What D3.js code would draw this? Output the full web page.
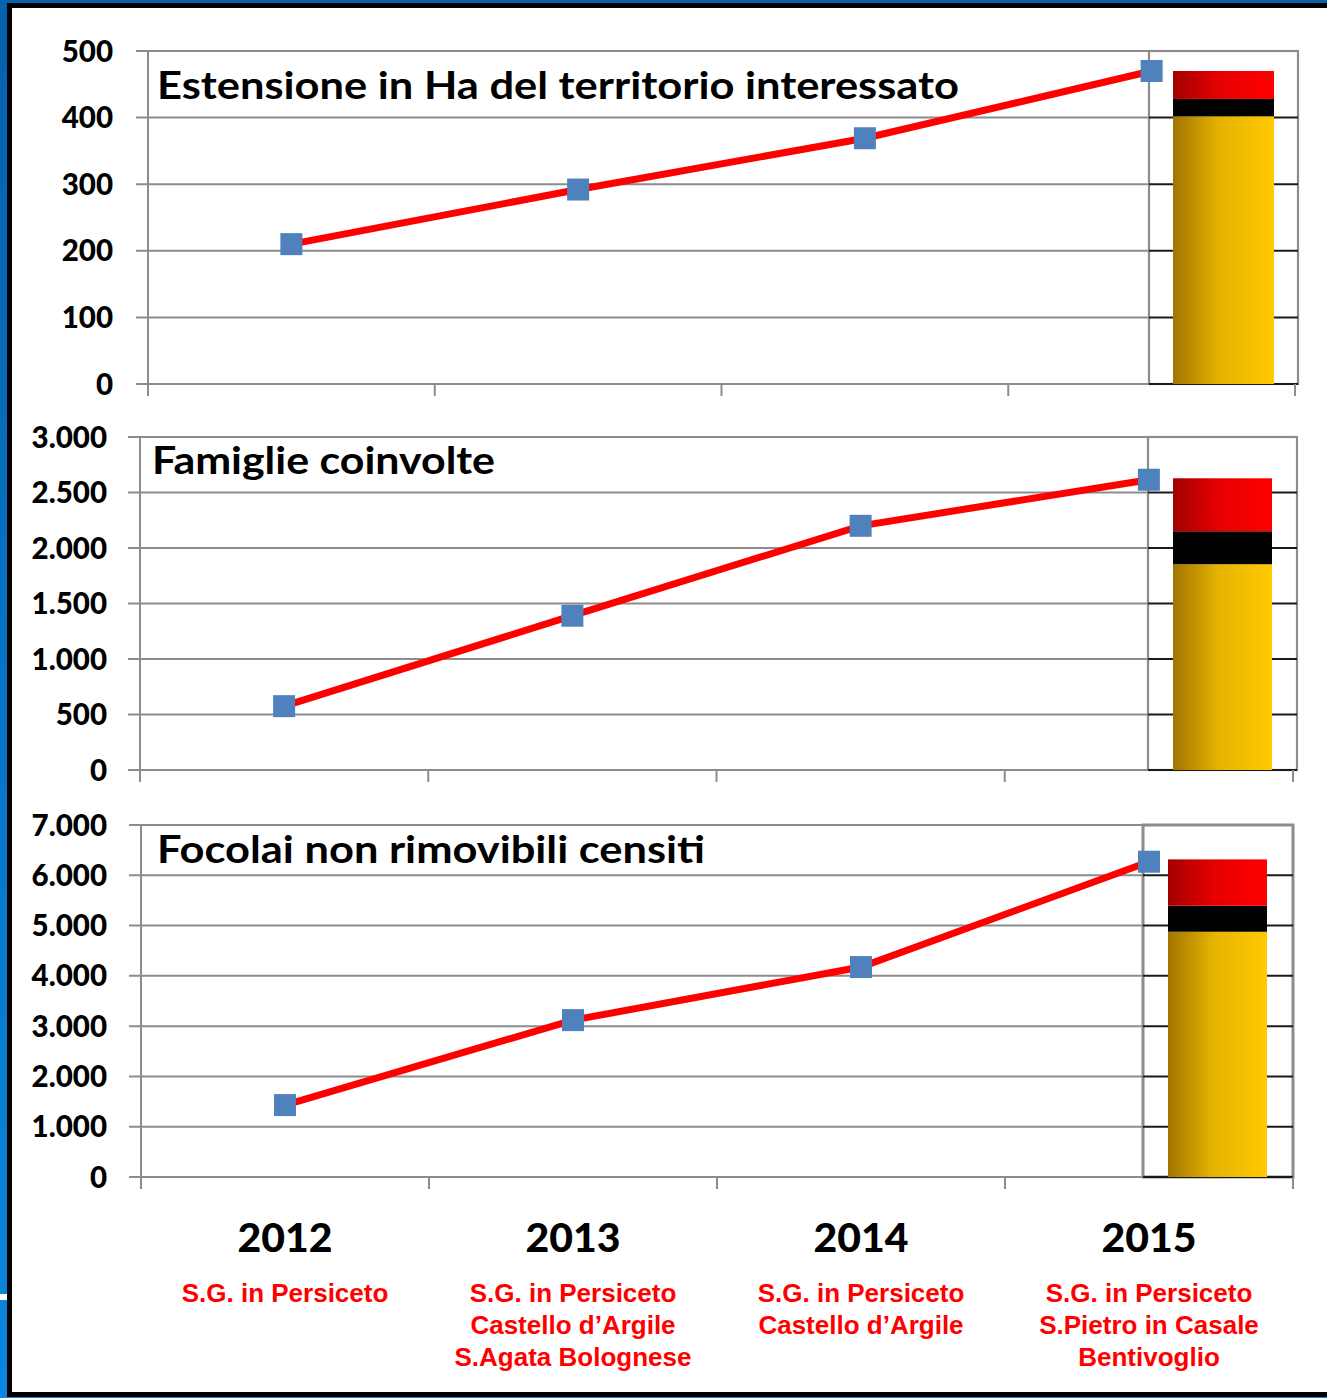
<!DOCTYPE html>
<html>
<head>
<meta charset="utf-8">
<script src="https://cdn.jsdelivr.net/npm/d3@7"></script>
<style>
    body { margin: 0; background: #fff; }
    svg { display: block; }
</style>
</head>
<body>
<svg id="chart" width="1327" height="1398"></svg>
<script>
const years = ["2012", "2013", "2014", "2015"];
const comuni = [
    ["S.G. in Persiceto"],
    ["S.G. in Persiceto", "Castello d\u2019Argile", "S.Agata Bolognese"],
    ["S.G. in Persiceto", "Castello d\u2019Argile"],
    ["S.G. in Persiceto", "S.Pietro in Casale", "Bentivoglio"]
];
const titles = [
    "Estensione in Ha del territorio interessato",
    "Famiglie coinvolte",
    "Focolai non rimovibili censiti"
];

// line series
const ettari = [210, 292, 369, 470];
const famiglie = [575, 1390, 2200, 2615];
const focolai = [1430, 3120, 4175, 6270];

// 2015 stacked bar: S.G. in Persiceto, S.Pietro in Casale, Bentivoglio
const ettariStack = [402, 26, 42];
const famiglieStack = [1854, 297, 477];
const focolaiStack = [4877, 517, 922];

const ettariTicks = [0, 100, 200, 300, 400, 500];
const famiglieTicks = [0, 500, 1000, 1500, 2000, 2500, 3000];
const focolaiTicks = [0, 1000, 2000, 3000, 4000, 5000, 6000, 7000];

const svg = d3.select("#chart");
const W = 1327, H = 1398;

// ---- frame ----
const defs = svg.append("defs");
const frameGrad = defs.append("linearGradient").attr("id", "frame-grad")
    .attr("x1", 0).attr("y1", 0).attr("x2", 0).attr("y2", 1);
frameGrad.append("stop").attr("offset", "0%").attr("stop-color", "#0561ac");
frameGrad.append("stop").attr("offset", "100%").attr("stop-color", "#0a86de");

svg.append("rect").attr("width", W).attr("height", H).attr("fill", "url(#frame-grad)");
svg.append("rect").attr("x", 0).attr("y", 1294).attr("width", 7).attr("height", 6).attr("fill", "#fff");
svg.append("rect").attr("x", 7).attr("y", 3).attr("width", W - 7).attr("height", 1394).attr("fill", "#000");
svg.append("rect").attr("x", 12).attr("y", 8).attr("width", W - 12).attr("height", 1384).attr("fill", "#fff");

// bar gradients
const addGrad = (id, from, to) => {
    const g = defs.append("linearGradient").attr("id", id)
        .attr("x1", 0).attr("y1", 0).attr("x2", 1).attr("y2", 0);
    g.append("stop").attr("offset", "0%").attr("stop-color", from);
    g.append("stop").attr("offset", "45%").attr("stop-color", d3.interpolateRgb(from, to)(0.72));
    g.append("stop").attr("offset", "100%").attr("stop-color", to);
};
addGrad("grad-yellow", "#a27400", "#ffca00");
addGrad("grad-red", "#a20000", "#ff0000");
const segFills = ["url(#grad-yellow)", "#000", "url(#grad-red)"];

defs.append("filter").attr("id", "soft")
    .append("feGaussianBlur").attr("stdDeviation", 0.7);

const itFormat = d3.formatLocale({ decimal: ",", thousands: ".", grouping: [3], currency: ["", "\u20ac"] }).format(",d");

const panels = [
    { title: titles[0], values: ettari, stack: ettariStack, ticks: ettariTicks,
      left: 148, right: 1298, tickEnd: 1295, top: 51, bottom: 384, box: 1149, barX: 1173, barW: 101,
      labelX: 113, titleX: 157, titleY: 99, titleW: 802, boxStroke: 2.2 },
    { title: titles[1], values: famiglie, stack: famiglieStack, ticks: famiglieTicks,
      left: 140, right: 1297, tickEnd: 1293, top: 437, bottom: 770, box: 1148, barX: 1173, barW: 99,
      labelX: 107, titleX: 152, titleY: 474, titleW: 343, boxStroke: 2.2 },
    { title: titles[2], values: focolai, stack: focolaiStack, ticks: focolaiTicks,
      left: 141, right: 1293, tickEnd: 1293, top: 825, bottom: 1177, box: 1143, barX: 1168, barW: 99,
      labelX: 107, titleX: 157, titleY: 863, titleW: 548, boxStroke: 3 }
];

const gridColor = "#8c8c8c";

panels.forEach(p => {
    const g = svg.append("g").attr("class", "panel");
    const x = d3.scaleBand().domain(years).range([p.left, p.tickEnd]);
    const y = d3.scaleLinear().domain([0, d3.max(p.ticks)]).range([p.bottom, p.top]);

    // gridlines + y ticks
    g.append("g").selectAll("line").data(p.ticks).enter().append("line")
        .attr("x1", p.left - 12).attr("x2", p.right)
        .attr("y1", d => y(d)).attr("y2", d => y(d))
        .attr("stroke", gridColor).attr("stroke-width", 2);

    // inset box for the 2015 bar
    g.append("rect")
        .attr("x", p.box).attr("y", p.top)
        .attr("width", p.right - p.box).attr("height", p.bottom - p.top)
        .attr("fill", "#fff").attr("stroke", gridColor).attr("stroke-width", p.boxStroke);
    g.append("g").selectAll("line").data(p.ticks.filter(t => t < d3.max(p.ticks))).enter().append("line")
        .attr("x1", p.box).attr("x2", p.right)
        .attr("y1", d => y(d)).attr("y2", d => y(d))
        .attr("stroke", "#1a1a1a").attr("stroke-width", 2);

    // stacked bar
    const stacked = d3.cumsum(p.stack);
    g.append("g").selectAll("rect").data(p.stack).enter().append("rect")
        .attr("x", p.barX).attr("width", p.barW)
        .attr("y", (d, i) => y(stacked[i]))
        .attr("height", (d, i) => y(stacked[i] - d) - y(stacked[i]))
        .attr("fill", (d, i) => segFills[i]);

    // axes
    g.append("line").attr("x1", p.left).attr("x2", p.left)
        .attr("y1", p.top).attr("y2", p.bottom + 12)
        .attr("stroke", gridColor).attr("stroke-width", 2);
    const xAxis = d3.axisBottom(x).tickSize(0).tickFormat("");
    const ax = g.append("g").attr("transform", `translate(0,${p.bottom})`).call(xAxis);
    ax.select(".domain").remove();
    ax.selectAll(".bound").data(x.domain().map(d => x(d)).concat([p.tickEnd])).enter().append("line")
        .attr("x1", d => d).attr("x2", d => d).attr("y1", 0).attr("y2", 12)
        .attr("stroke", gridColor).attr("stroke-width", 2);

    // y labels
    g.append("g").selectAll("text").data(p.ticks).enter().append("text")
        .attr("x", p.labelX).attr("y", d => y(d) + 10.5)
        .attr("text-anchor", "end")
        .attr("font-family", "Lato, 'DejaVu Sans', sans-serif")
        .attr("font-weight", 900).attr("font-size", 29.5)
        .attr("fill", "#000")
        .text(d => itFormat(d));

    // title
    g.append("text")
        .attr("x", p.titleX).attr("y", p.titleY)
        .attr("font-family", "Lato, 'DejaVu Sans', sans-serif")
        .attr("font-weight", 700).attr("font-size", 38)
        .attr("textLength", p.titleW).attr("lengthAdjust", "spacingAndGlyphs")
        .attr("fill", "#000")
        .text(p.title);

    // line + markers
    const line = d3.line().x((d, i) => x(years[i]) + x.bandwidth() / 2).y(d => y(d));
    g.append("path").datum(p.values)
        .attr("d", line).attr("fill", "none")
        .attr("stroke", "#ff0000").attr("stroke-width", 7);
    g.append("g").selectAll("rect").data(p.values).enter().append("rect")
        .attr("x", (d, i) => x(years[i]) + x.bandwidth() / 2 - 11)
        .attr("y", d => y(d) - 11)
        .attr("width", 22).attr("height", 22)
        .attr("fill", "#4f81bd").attr("filter", "url(#soft)");
});

// category labels under the last panel
const last = panels[2];
const xc = d3.scaleBand().domain(years).range([last.left, last.tickEnd]);
const cats = svg.append("g").selectAll("g").data(years).enter().append("g")
    .attr("transform", d => `translate(${xc(d) + xc.bandwidth() / 2},0)`);
cats.append("text")
    .attr("y", 1252).attr("text-anchor", "middle")
    .attr("font-family", "Lato, 'DejaVu Sans', sans-serif")
    .attr("font-weight", 900).attr("font-size", 40)
    .attr("textLength", 95).attr("lengthAdjust", "spacingAndGlyphs")
    .text(d => d);
cats.each(function (d, i) {
    d3.select(this).selectAll("text.comune").data(comuni[i]).enter().append("text")
        .attr("class", "comune")
        .attr("y", (c, j) => 1302 + j * 32).attr("text-anchor", "middle")
        .attr("font-family", "'Liberation Sans', Arial, sans-serif")
        .attr("font-weight", 700).attr("font-size", 26)
        .attr("fill", "#ff0000")
        .text(c => c);
});
</script>
</body>
</html>
